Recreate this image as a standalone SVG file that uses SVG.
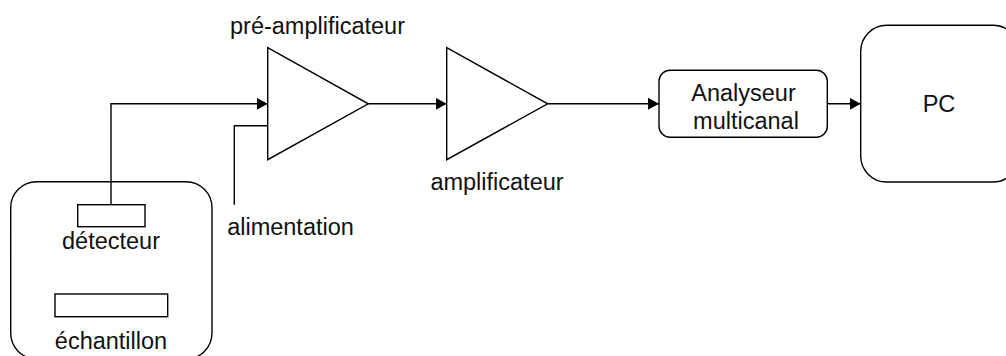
<svg xmlns="http://www.w3.org/2000/svg" width="1006" height="356" viewBox="0 0 1006 356">
<style>
.s{fill:#fff;stroke:#000;stroke-width:1.4}
.c{fill:none;stroke:#000;stroke-width:1.4}
.a{marker-end:url(#arr)}
text{font-family:"Liberation Sans",Arial,sans-serif;font-size:23.5px;fill:#111;text-anchor:middle}
</style>
<defs><marker id="arr" markerUnits="userSpaceOnUse" markerWidth="12" markerHeight="13" refX="11" refY="6.500" orient="auto"><path d="M0,0.500L11,6.500L0,12.500z" fill="#000"/></marker></defs>
<rect width="1006" height="356" fill="#fff"/>
<g id="enceinte"><rect class="s" x="10.700" y="181.700" width="201.300" height="177.300" rx="26" ry="26"/></g>
<g id="detecteur"><rect class="s" x="77.700" y="204.700" width="67.300" height="22"/><text x="111" y="248.500">détecteur</text></g>
<g id="echantillon"><rect class="s" x="55" y="294" width="112.700" height="22.700"/><text x="111" y="349">échantillon</text></g>
<g id="preamplificateur"><path class="s" d="M267.700,47.700L368.300,103.800L267.700,159.700z"/><text x="317.500" y="33.500">pré-amplificateur</text></g>
<g id="amplificateur"><path class="s" d="M446.700,47.700L547.700,103.800L446.700,159.700z"/><text x="497" y="190">amplificateur</text></g>
<g id="analyseur"><rect class="s" x="659" y="70.300" width="168.300" height="67" rx="11" ry="11"/><text x="743.500" y="100.500">Analyseur</text><text x="746" y="129">multicanal</text></g>
<g id="pc"><rect class="s" x="860.700" y="25.300" width="158.300" height="156.700" rx="26" ry="26"/><text x="939" y="112">PC</text></g>
<g id="alimentation"><text x="290.500" y="234.500">alimentation</text></g>
<g id="connectors">
<path class="c a" d="M111,204.700V103.800H267.700"/>
<path class="c" d="M234.300,204.700V125.800H267.700"/>
<path class="c a" d="M368.300,103.800H446.700"/>
<path class="c a" d="M547.700,103.800H659"/>
<path class="c a" d="M827.300,103.800H860.700"/>
</g>
</svg>
